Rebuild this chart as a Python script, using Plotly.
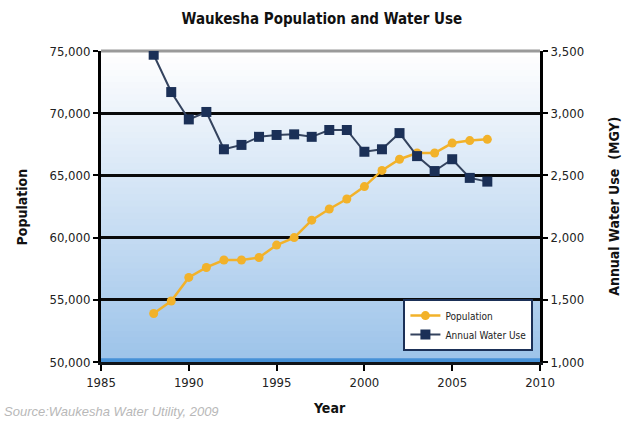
import plotly.graph_objects as go

# Values
years = list(range(1988, 2008))
population = [53900, 54900, 56800, 57600, 58200, 58200, 58400, 59400, 60000, 61400,
              62300, 63100, 64100, 65400, 66300, 66800, 66800, 67600, 67800, 67900]
water_use = [3470, 3170, 2950, 3010, 2710, 2745, 2810, 2825, 2830, 2810,
             2865, 2865, 2690, 2710, 2840, 2655, 2535, 2630, 2480, 2450]

pop_ticks = [50000, 55000, 60000, 65000, 70000, 75000]
water_ticks = [1000, 1500, 2000, 2500, 3000, 3500]
year_ticks = [1985, 1990, 1995, 2000, 2005, 2010]

ORANGE = "#f2b22a"
NAVY = "#1b3057"
NARROW = "DejaVu Sans Condensed, Liberation Sans Narrow, sans-serif"

fig = go.Figure()

fig.add_trace(go.Scatter(
    x=years, y=population, name="Population", mode="lines+markers",
    line=dict(color=ORANGE, width=2.5),
    marker=dict(color=ORANGE, size=9, symbol="circle"),
))
fig.add_trace(go.Scatter(
    x=years, y=water_use, name="Annual Water Use", mode="lines+markers", yaxis="y2",
    line=dict(color="#34435e", width=2),
    marker=dict(color=NAVY, size=10, symbol="square"),
))

# gradient background: white at top fading into blue at the bottom
n = 50
top = (255, 255, 255)
bot = (158, 196, 234)
for i in range(n):
    t = i / (n - 1)
    c = tuple(int(top[k] + (bot[k] - top[k]) * t) for k in range(3))
    fig.add_shape(type="rect", xref="x domain", yref="y domain",
                  x0=0, x1=1, y0=max(0, 1 - (i + 1.6) / n), y1=1 - i / n,
                  fillcolor="rgb(%d,%d,%d)" % c, line_width=0, layer="below")
fig.add_shape(type="rect", xref="x domain", yref="y domain",
              x0=0, x1=1, y0=0, y1=0.012,
              fillcolor="rgb(70,145,215)", line_width=0, layer="below")
# grey top border
fig.add_shape(type="line", xref="x domain", yref="y domain",
              x0=0, x1=1, y0=1, y1=1,
              line=dict(color="#9a9a9a", width=3), layer="below")

fig.update_layout(
    width=625, height=423,
    margin=dict(l=101, r=85, t=51, b=61),
    paper_bgcolor="white",
    plot_bgcolor="white",
    title=dict(text="<b>Waukesha Population and Water Use</b>", x=0.515, xanchor="center",
               y=0.955, yanchor="middle",
               font=dict(family=NARROW, size=15, color="#111111")),
    xaxis=dict(
        range=[1985, 2010], tickvals=year_ticks, showgrid=False, zeroline=False,
        showline=True, linecolor="#101418", linewidth=3,
        ticks="outside", ticklen=6, tickwidth=2, tickcolor="black",
        tickfont=dict(family=NARROW, size=13, color="#222222"),
    ),
    yaxis=dict(
        range=[50000, 75000], tickvals=pop_ticks, tickformat=",", showgrid=True,
        gridcolor="#0a0a0a", gridwidth=2.5, zeroline=False,
        showline=True, linecolor="black", linewidth=3,
        ticks="outside", ticklen=5, tickwidth=2, tickcolor="black",
        tickfont=dict(family=NARROW, size=13, color="#222222"),
    ),
    yaxis2=dict(
        range=[1000, 3500], tickvals=water_ticks, tickformat=",", overlaying="y",
        side="right", showgrid=False, zeroline=False,
        showline=True, linecolor="black", linewidth=3,
        ticks="outside", ticklen=5, tickwidth=2, tickcolor="black",
        tickfont=dict(family=NARROW, size=13, color="#222222"),
    ),
    legend=dict(
        x=0.985, y=0.035, xanchor="right", yanchor="bottom",
        bgcolor="white", bordercolor=NAVY, borderwidth=2,
        font=dict(family=NARROW, size=10, color="#222222"),
        tracegroupgap=2, itemwidth=30,
    ),
    showlegend=True,
)

# axis titles
fig.add_annotation(text="<b>Population</b>", xref="paper", yref="paper",
                   x=-0.18, y=0.5, xanchor="center", yanchor="middle",
                   textangle=-90, showarrow=False,
                   font=dict(family=NARROW, size=14, color="#111111"))
fig.add_annotation(text="<b>Annual Water Use  (MGY)</b>", xref="paper", yref="paper",
                   x=1.167, y=0.5, xanchor="center", yanchor="middle",
                   textangle=-90, showarrow=False,
                   font=dict(family=NARROW, size=14, color="#111111"))
fig.add_annotation(text="<b>Year</b>", xref="paper", yref="paper",
                   x=0.52, y=-0.148, xanchor="center", yanchor="middle", showarrow=False,
                   font=dict(family=NARROW, size=14, color="#111111"))
fig.add_annotation(text="<i>Source:Waukesha Water Utility, 2009</i>", xref="paper", yref="paper",
                   x=-0.225, y=-0.16, xanchor="left", yanchor="middle", showarrow=False,
                   font=dict(family="Liberation Sans, Arial, sans-serif", size=13, color="#b8b8b8"))

# drop the default page margin so the figure fills the window exactly
fig.write_html("out.html", config={"displayModeBar": False},
               post_script="document.body.style.margin='0';")
